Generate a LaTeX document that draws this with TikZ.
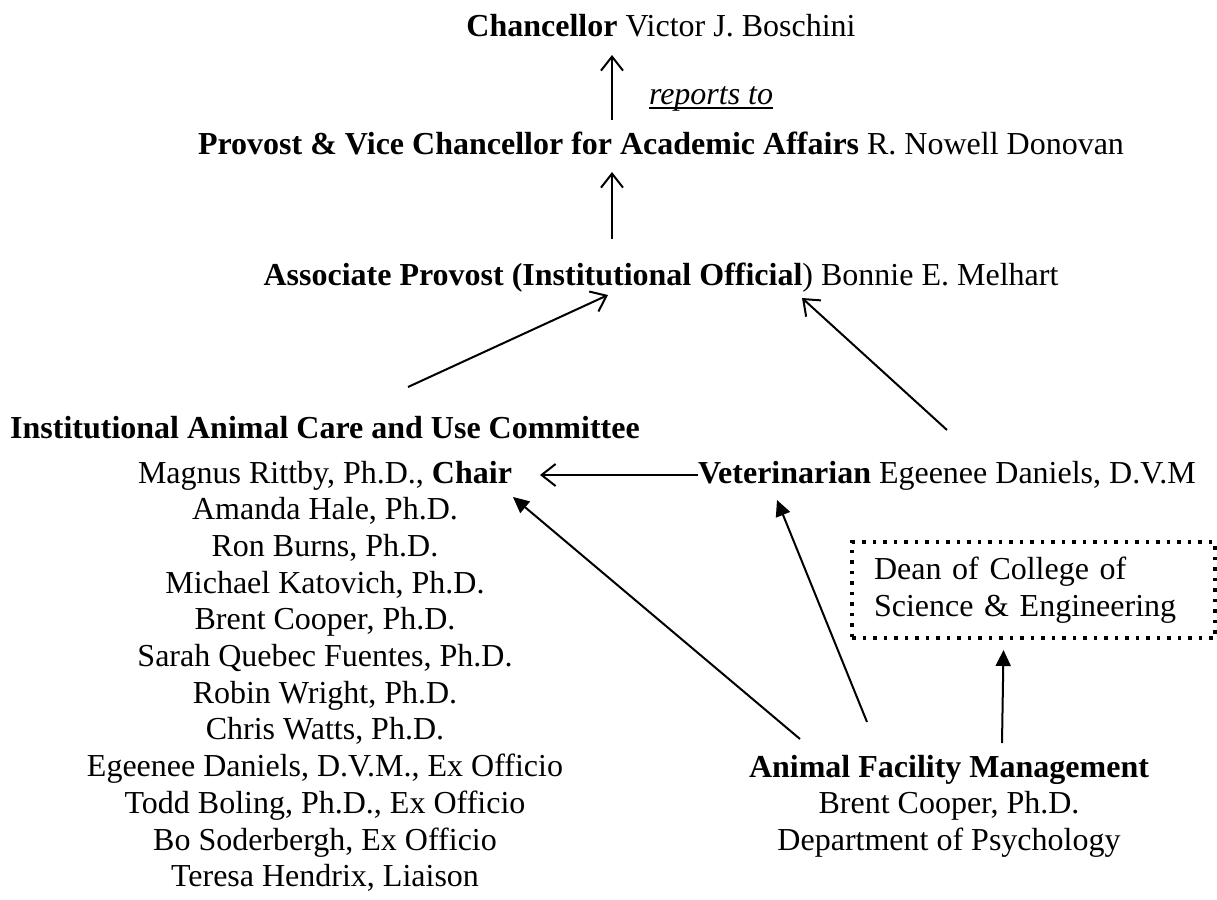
\documentclass[tikz,border=0pt]{standalone}
\usepackage{fontspec}
\setmainfont{Liberation Serif}
\usetikzlibrary{arrows.meta}
\newcommand\myul[1]{\setbox0\hbox{#1}\rlap{\rule[-4.5pt]{\wd0}{1.8pt}}\box0}
\begin{document}
\begin{tikzpicture}[x=1pt,y=-1pt,
  txt/.style={font=\fontsize{32}{37}\selectfont, inner sep=0pt, outer sep=0pt, anchor=base},
  oarrow/.style={line width=2pt, -{Straight Barb[length=14pt,width=22pt]}},
  farrow/.style={line width=2pt, -{Triangle[length=16pt,width=15pt]}},
  deanbox/.style={draw, line width=3.5pt, dash pattern=on 3.5pt off 7pt,
    font=\fontsize{32}{37}\selectfont, outer sep=0pt, inner xsep=22pt, inner ysep=0pt,
    text width=319pt, minimum height=96pt, align=left, anchor=north west}]
\useasboundingbox (0,0) rectangle (1217,899);

\node[txt] (chan) at (661,37) {\textbf{Chancellor} Victor J. Boschini};
\node[txt] (prov) at (661,154) {\textbf{Provost \& Vice Chancellor for Academic Affairs} R. Nowell Donovan};
\node[txt, anchor=base west] (rep) at (649,104) {\myul{\textit{reports to}}};
\node[txt] (assoc) at (661,285) {\textbf{Associate Provost (Institutional Official}) Bonnie E. Melhart};

\node[txt] (iacuc) at (325,438) {\textbf{Institutional Animal Care and Use Committee}};
\node[txt] (m1) at (325,483.0) {Magnus Rittby, Ph.D., \textbf{Chair}};
\node[txt] (m2) at (325,519.7) {Amanda Hale, Ph.D.};
\node[txt] (m3) at (325,556.4) {Ron Burns, Ph.D.};
\node[txt] (m4) at (325,593.1) {Michael Katovich, Ph.D.};
\node[txt] (m5) at (325,629.8) {Brent Cooper, Ph.D.};
\node[txt] (m6) at (325,666.5) {Sarah Quebec Fuentes, Ph.D.};
\node[txt] (m7) at (325,703.2) {Robin Wright, Ph.D.};
\node[txt] (m8) at (325,739.9) {Chris Watts, Ph.D.};
\node[txt] (m9) at (325,776.6) {Egeenee Daniels, D.V.M., Ex Officio};
\node[txt] (m10) at (325,813.3) {Todd Boling, Ph.D., Ex Officio};
\node[txt] (m11) at (325,850.0) {Bo Soderbergh, Ex Officio};
\node[txt] (m12) at (325,886.7) {Teresa Hendrix, Liaison};

\node[txt, anchor=base west] (vet) at (698,483) {\textbf{Veterinarian} Egeenee Daniels, D.V.M};

\node[deanbox] (dean) at (852,542) {Dean of College of\\Science \& Engineering};

\node[txt] (afm) at (949,777) {\textbf{Animal Facility Management}};
\node[txt] (afm2) at (949,813.5) {Brent Cooper, Ph.D.};
\node[txt] (afm3) at (949,850) {Department of Psychology};

% connectors
\draw[oarrow] ([xshift=-49pt,yshift=34pt]prov.base) -- ([xshift=-49pt,yshift=-18pt]chan.base);
\draw[oarrow] ([xshift=-49pt,yshift=46pt]assoc.base) -- ([xshift=-49pt,yshift=-18pt]prov.base);
\draw[oarrow] ([xshift=83pt,yshift=51pt]iacuc.base) -- ([xshift=-53pt,yshift=-10pt]assoc.base);
\draw[oarrow] ([xshift=249pt,yshift=53pt]vet.base west) -- ([xshift=141pt,yshift=-13pt]assoc.base);
\draw[oarrow] ([yshift=8pt]vet.base west) -- ([xshift=28pt,yshift=8pt]m1.base east);
\draw[farrow] ([xshift=-149pt,yshift=38pt]afm.base) -- ([xshift=1pt,yshift=-14pt]m1.base east);
\draw[farrow] ([xshift=-82pt,yshift=55pt]afm.base) -- ([xshift=79pt,yshift=-17pt]vet.base west);
\draw[farrow] ([xshift=53pt,yshift=34pt]afm.base) -- ([xshift=-30pt,yshift=-12pt]dean.south);
\end{tikzpicture}
\end{document}
